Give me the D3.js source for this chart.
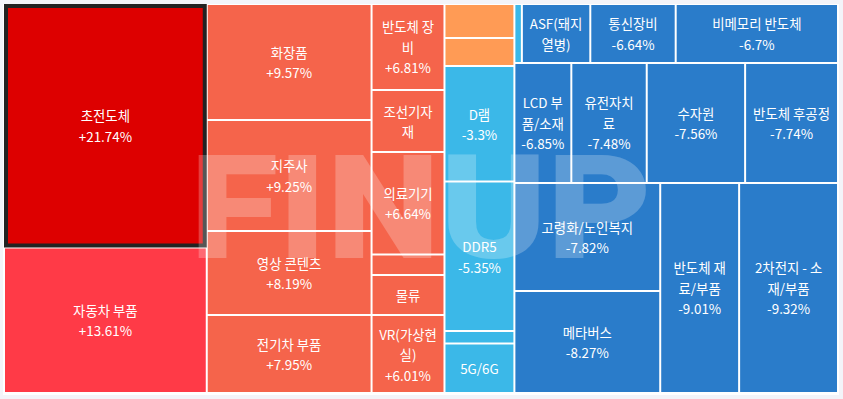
<!DOCTYPE html>
<html><head><meta charset="utf-8">
<script src="https://cdn.jsdelivr.net/npm/d3@7"></script>
<style>
html,body{margin:0;padding:0;background:#f3f4f9;}
svg{display:block;}
text{font-family:"Noto Sans CJK KR","Noto Sans",sans-serif;}
</style></head><body>
<svg id="chart" width="843" height="399"></svg>
<script>
// Sector names (empty = cell without a visible label), ordered as laid out
const names = ["초전도체","자동차 부품","화장품","지주사","영상 콘텐츠","전기차 부품","반도체 장비","조선기자재","의료기기","","물류","VR(가상현실)","","","D램","DDR5","","5G/6G","","ASF(돼지열병)","통신장비","비메모리 반도체","LCD 부품/소재","유전자치료","수자원","반도체 후공정","고령화/노인복지","메타버스","반도체 재료/부품","2차전지 - 소재/부품"];
// Change rates (%)
const changes = [21.74,13.61,9.57,9.25,8.19,7.95,6.81,6.7,6.64,6.3,6.1,6.01,3.5,3.0,-3.3,-5.35,-5.4,-5.6,-5.9,-6.5,-6.64,-6.7,-6.85,-7.48,-7.56,-7.74,-7.82,-8.27,-9.01,-9.32];
// Cell sizes (relative weight)
const sizes = [49430,29537,19140,18315,13860,12870,6278,4526,7483,1497,2920,5694,2380,1960,8085,10465,875,3465,442,4041,5044,9587,6840,9060,11820,11160,15768,14892,16590,20790];
const colorBreaks = [-6,0,5,10,15];
const colorRange = ["#2a7cca","#3bb8e8","#ff9b55","#f5644b","#ff3a47","#dd0000"];
const highlighted = "초전도체";
const watermark = "FINUP";

const svg = d3.select("#chart");
const ox = 4, oy = 4, tw = 834, th = 389;
svg.append("rect").attr("x",3).attr("y",4).attr("width",836).attr("height",391).attr("fill","#ffffff");

const data = names.map((n,i)=>({name:n, change:changes[i], size:sizes[i]}));
const root = d3.hierarchy({children:data}).sum(d=>d.size||0);
d3.treemap().tile(d3.treemapSquarify).size([tw,th]).paddingInner(2).paddingOuter(1)(root);
const color = d3.scaleThreshold().domain(colorBreaks).range(colorRange);

const g = svg.append("g").attr("transform",`translate(${ox},${oy})`);
const leaves = root.leaves();
g.selectAll("rect.cell").data(leaves).join("rect").attr("class","cell")
  .attr("x",d=>d.x0).attr("y",d=>d.y0)
  .attr("width",d=>d.x1-d.x0).attr("height",d=>d.y1-d.y0)
  .attr("fill",d=>color(d.data.change));

// highlight border
leaves.filter(d=>d.data.name===highlighted).forEach(d=>{
  g.append("rect").attr("x",d.x0+1).attr("y",d.y0+1)
   .attr("width",d.x1-d.x0-2).attr("height",d.y1-d.y0-2)
   .attr("fill","none").attr("stroke","#222").attr("stroke-width",4);
});

// watermark
svg.append("text").attr("x",421).attr("y",258).attr("text-anchor","middle")
  .attr("font-size",145).attr("font-weight",900)
  .style("font-family","Roboto, Lato, 'DejaVu Sans', sans-serif")
  .attr("fill","#ffffff").attr("fill-opacity",0.24)
  .attr("textLength",462).attr("lengthAdjust","spacingAndGlyphs")
  .text(watermark);

// labels
const FS = 13.4, LH = 20.5, VPAD = 10, HPAD = 12.3;
const meas = svg.append("text").attr("font-size",FS).attr("x",-999).attr("y",-999);
function measure(s){ meas.text(s); return meas.node().getComputedTextLength(); }
const noBreakBefore = new Set(["/",")","]","-",".",",","%"]);
const noBreakAfter = new Set(["("]);
function wrap(str, avail){
  const chars = Array.from(str);
  const lines = []; let start = 0;
  while (start < chars.length) {
    while (start < chars.length && chars[start] === " ") start++;
    if (start >= chars.length) break;
    let end = start + 1;
    while (end < chars.length && measure(chars.slice(start, end+1).join("").trimEnd()) <= avail) end++;
    if (end < chars.length) {
      let e = end;
      while (e > start+1 && (noBreakBefore.has(chars[e]) || noBreakAfter.has(chars[e-1]))) e--;
      end = e;
    }
    lines.push(chars.slice(start, end).join("").trimEnd());
    start = end;
  }
  if (!lines.length || lines.some(l => measure(l) > avail)) return null;
  return lines;
}
const fmt = v => (v>0?"+":"")+v+"%";
const lg = svg.append("g").attr("transform",`translate(${ox},${oy})`);
leaves.forEach(d=>{
  if(!d.data.name) return;
  const w = d.x1-d.x0, h = d.y1-d.y0;
  const lines = wrap(d.data.name, w-HPAD);
  if(!lines) return;
  let all;
  if ((lines.length+1)*LH + VPAD <= h) all = lines.concat([fmt(d.data.change)]);
  else if (lines.length*LH + VPAD <= h) all = lines;
  else return;
  const cx = (d.x0+d.x1)/2, cy = (d.y0+d.y1)/2;
  const t = lg.append("text").attr("text-anchor","middle").attr("font-size",FS).attr("fill","#ffffff");
  all.forEach((l,i)=>{
    t.append("tspan").attr("x",cx).attr("y",cy + (i-(all.length-1)/2)*LH).attr("dominant-baseline","central").text(l);
  });
});
meas.remove();
</script>
</body></html>
